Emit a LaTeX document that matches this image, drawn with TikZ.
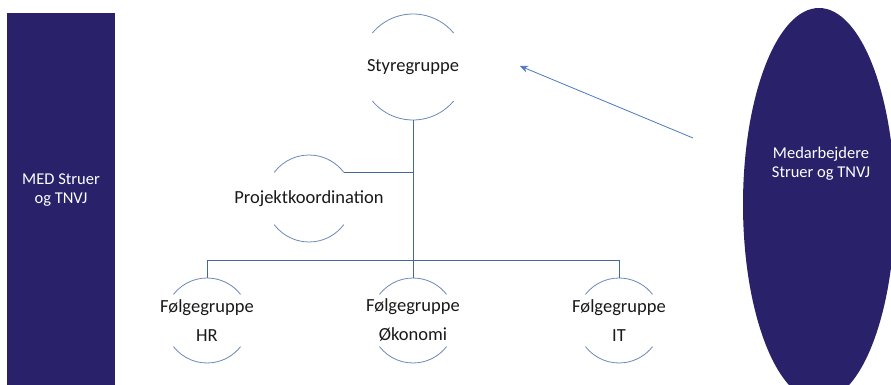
\documentclass[tikz,border=0pt]{standalone}
\usepackage{fontspec}
\setmainfont{Carlito}
\usetikzlibrary{arrows.meta}
\definecolor{navy}{HTML}{29226B}
\definecolor{arcblue}{HTML}{6A88B8}
\definecolor{linkblue}{HTML}{44679C}
\definecolor{arrowblue}{HTML}{4A78C4}
\begin{document}
\begin{tikzpicture}[x=1pt,y=1pt,
  grp/.style={inner sep=0pt,text=black!90,align=center,font=\fontsize{18.5}{29}\selectfont},
  arcline/.style={draw=arcblue,line width=0.8pt},
  link/.style={draw=linkblue,line width=0.9pt},
  side/.style={fill=navy,draw=none},
  sidetext/.style={text=white,align=center,font=\fontsize{16.5}{19}\selectfont}]
\useasboundingbox (0,0) rectangle (891,-385);
\clip (0,0) rectangle (891,-385);
% left box
\node[side,minimum width=108pt,minimum height=372pt,inner sep=0pt] (med) at (61,-199) {};
\node[sidetext] (medtxt) at (61,-190) {MED Struer\\og TNVJ};
% right ellipse
\path[side] (819,-204.5) ellipse[x radius=76, y radius=196.5];
\node[sidetext] (mab) at (821,-164) {Medarbejdere\\Struer og TNVJ};
% groups
\node[grp] (sty) at (413,-67) {Styregruppe};
\node[grp] (pk) at (309,-198.5) {Projektkoordination};
\node[grp] (hr) at (207,-320.5) {Følgegruppe\\HR};
\node[grp] (oko) at (413,-320.5) {Følgegruppe\\Økonomi};
\node[grp] (it) at (619,-320.5) {Følgegruppe\\IT};
% arcs
\draw[arcline] ([shift={(140:53)}]sty.center) arc[start angle=140,end angle=40,radius=53];
\draw[arcline] ([shift={(220:53)}]sty.center) arc[start angle=220,end angle=320,radius=53];
\draw[arcline] ([shift={(143:43.5)}]pk.center) arc[start angle=143,end angle=37,radius=43.5];
\draw[arcline] ([shift={(217:43.5)}]pk.center) arc[start angle=217,end angle=323,radius=43.5];
\foreach \n in {hr,oko,it}{
  \draw[arcline] ([shift={(142:42.5)}]\n.center) arc[start angle=142,end angle=38,radius=42.5];
  \draw[arcline] ([shift={(218:42.5)}]\n.center) arc[start angle=218,end angle=322,radius=42.5];
}
% anchor points on the circles
\coordinate (styB) at ([yshift=-53pt]sty.center);
\coordinate (pkR) at ([shift={(37:43.5)}]pk.center);
\coordinate (hrT) at ([yshift=42.5pt]hr.center);
\coordinate (okoT) at ([yshift=42.5pt]oko.center);
\coordinate (itT) at ([yshift=42.5pt]it.center);
\coordinate (busR) at (619,-260);
% connectors
\draw[link] (styB) -- (okoT);
\draw[link] (hrT) |- (busR) -- (itT);
\draw[link] (pkR) -- (pkR -| styB);
\coordinate (arrtail) at (693,-138);
\draw[draw=arrowblue,line width=0.8pt,-{Stealth[length=8pt,width=7pt]}] (arrtail) -- ([shift={(107,1)}]sty.center);
\end{tikzpicture}
\end{document}
